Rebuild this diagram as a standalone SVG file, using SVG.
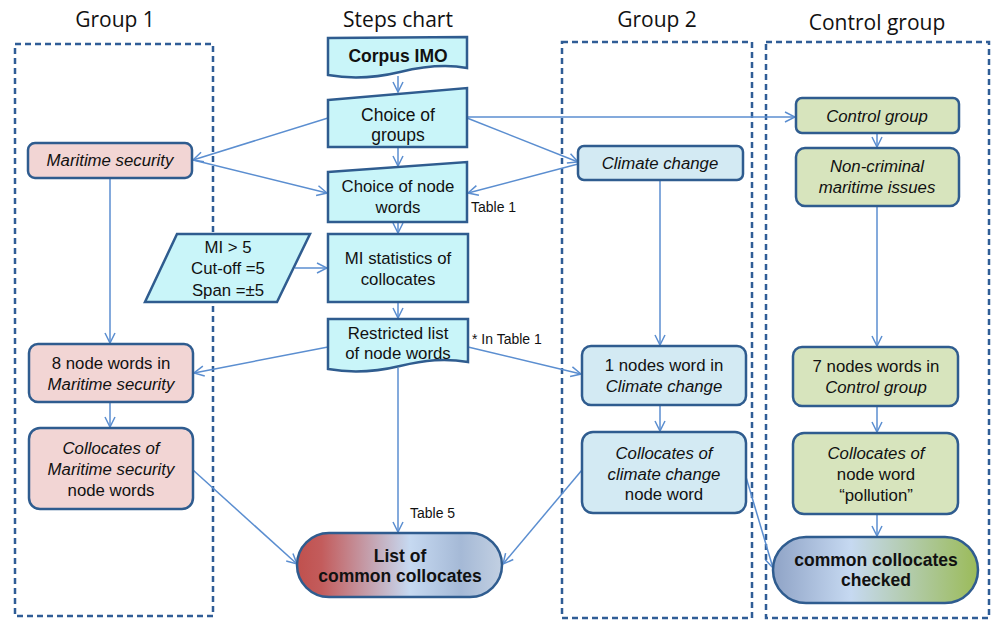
<svg xmlns="http://www.w3.org/2000/svg" width="992" height="622" viewBox="0 0 992 622">
<defs>
<style>
.grp{fill:none;stroke:#2f5d96;stroke-width:2.5;stroke-dasharray:6 4}
.title{font-family:"Open Sans","Liberation Sans",Arial,sans-serif;font-size:21px;fill:#111;text-anchor:middle}
.n{stroke:#2f5c8f;stroke-width:2.5}
.cy{fill:#c9f5f9}
.pk{fill:#f2d5d4}
.lb{fill:#d3eaf3}
.gr{fill:#d7e4bd}
.t{font-family:"Liberation Sans",Arial,sans-serif;font-size:16.8px;fill:#111;text-anchor:middle}
.i{font-style:italic}
.b{font-weight:bold}
.lbl{font-family:"Liberation Sans",Arial,sans-serif;font-size:14px;fill:#111}
.c{fill:none;stroke:#5b8ed0;stroke-width:1.5;marker-end:url(#ah)}
</style>
<marker id="ah" viewBox="0 0 12 12" refX="11" refY="6" markerWidth="12" markerHeight="12" markerUnits="userSpaceOnUse" orient="auto">
<path d="M1,1 L11,6 L1,11" fill="none" stroke="#5b8ed0" stroke-width="1.5"/>
</marker>
<linearGradient id="g1" x1="0" y1="0" x2="1" y2="0">
<stop offset="0" stop-color="#c0504d"/>
<stop offset="0.12" stop-color="#c35c5c"/>
<stop offset="0.55" stop-color="#c6d9f1"/>
<stop offset="0.8" stop-color="#a5b9d6"/>
<stop offset="1" stop-color="#c2d0e2"/>
</linearGradient>
<linearGradient id="g2" x1="0" y1="0" x2="1" y2="0">
<stop offset="0" stop-color="#8fa3c6"/>
<stop offset="0.38" stop-color="#c6d9f1"/>
<stop offset="1" stop-color="#9bbb59"/>
</linearGradient>
</defs>
<rect width="992" height="622" fill="#ffffff"/>

<g id="groups">
<rect class="grp" x="15" y="44" width="198" height="572"/>
<rect class="grp" x="562" y="42" width="190" height="576"/>
<rect class="grp" x="766" y="42" width="223" height="576"/>
<text class="title" x="115" y="27">Group 1</text>
<text class="title" x="398" y="27">Steps chart</text>
<text class="title" x="657" y="27">Group 2</text>
<text class="title" x="877" y="30">Control group</text>
</g>

<g id="connectors">
<path class="c" d="M398,76 L398,92"/>
<path class="c" d="M398,147 L398,166"/>
<path class="c" d="M328,118 L193,160"/>
<path class="c" d="M467,118 L578,162"/>
<path class="c" d="M467,117 L795,117"/>
<path class="c" d="M193,160 L327,193"/>
<path class="c" d="M578,164 L468,193"/>
<path class="c" d="M398,222 L398,233"/>
<path class="c" d="M295,268 L327,268"/>
<path class="c" d="M398,302 L398,318"/>
<path class="c" d="M328,347 L194,373"/>
<path class="c" d="M468,347 L581,374"/>
<path class="c" d="M398,368 L398,532"/>
<path class="c" d="M110,178 L110,343"/>
<path class="c" d="M110,402 L110,427"/>
<path class="c" d="M193,470 L297,564"/>
<path class="c" d="M582,470 L503,564"/>
<path class="c" d="M746,477 L773,568"/>
<path class="c" d="M660,180 L660,345"/>
<path class="c" d="M660,405 L660,431"/>
<path class="c" d="M877,133 L877,147"/>
<path class="c" d="M877,206 L877,346"/>
<path class="c" d="M877,406 L877,432"/>
<path class="c" d="M877,514 L877,536"/>
</g>

<g id="labels">
<text class="lbl" x="471" y="212">Table 1</text>
<text class="lbl" x="472" y="344">* In Table 1</text>
<text class="lbl" x="410" y="518">Table 5</text>
</g>

<g id="corpus">
<path class="n cy" d="M328,38 L467,37 L467,68 C445,64 425,66 400,72 C375,78 350,79 328,75 Z"/>
<text class="t b" x="398" y="62" style="font-size:17.5px">Corpus IMO</text>
</g>

<g id="choice-groups">
<path class="n cy" d="M328,100 L467,88 L467,147 L328,147 Z"/>
<text class="t" x="398" y="121" style="font-size:17.5px">Choice of</text>
<text class="t" x="398" y="141" style="font-size:17.5px">groups</text>
</g>

<g id="choice-node-words">
<path class="n cy" d="M328,172 L467,162 L467,222 L328,222 Z"/>
<text class="t" x="398" y="192">Choice of node</text>
<text class="t" x="398" y="213">words</text>
</g>

<g id="mi-params">
<path class="n cy" d="M177,234 L310,234 L277,302 L145,302 Z"/>
<text class="t" x="228" y="253">MI &gt; 5</text>
<text class="t" x="228" y="274">Cut-off =5</text>
<text class="t" x="228" y="296">Span =±5</text>
</g>

<g id="mi-stats">
<rect class="n cy" x="328" y="234" width="140" height="68"/>
<text class="t" x="398" y="264">MI statistics of</text>
<text class="t" x="398" y="285">collocates</text>
</g>

<g id="restricted">
<path class="n cy" d="M328,319 L468,319 L468,362 C445,358 425,360 400,366 C375,372 350,373 328,369 Z"/>
<text class="t" x="398" y="339">Restricted list</text>
<text class="t" x="398" y="359">of node words</text>
</g>

<g id="maritime">
<rect class="n pk" x="28" y="143" width="164" height="35" rx="7"/>
<text class="t i" x="110" y="166">Maritime security</text>
</g>

<g id="eight-nodes">
<rect class="n pk" x="29" y="344" width="164" height="58" rx="9"/>
<text class="t" x="111" y="369">8 node words in</text>
<text class="t i" x="111" y="390">Maritime security</text>
</g>

<g id="collocates-ms">
<rect class="n pk" x="29" y="428" width="164" height="81" rx="11"/>
<text class="t i" x="111" y="454">Collocates of</text>
<text class="t i" x="111" y="475">Maritime security</text>
<text class="t" x="111" y="496">node words</text>
</g>

<g id="list-common">
<rect x="297" y="533" width="205" height="64" rx="32" fill="url(#g1)" class="n"/>
<text class="t b" x="400" y="562" style="font-size:17.5px">List of</text>
<text class="t b" x="400" y="582" style="font-size:17.5px">common  collocates</text>
</g>

<g id="climate">
<rect class="n lb" x="578" y="146" width="165" height="34" rx="6"/>
<text class="t i" x="660" y="169">Climate change</text>
</g>

<g id="one-node">
<rect class="n lb" x="582" y="346" width="164" height="59" rx="9"/>
<text class="t" x="664" y="371">1 nodes word in</text>
<text class="t i" x="664" y="392">Climate change</text>
</g>

<g id="collocates-cc">
<rect class="n lb" x="582" y="432" width="164" height="81" rx="11"/>
<text class="t i" x="664" y="459">Collocates of</text>
<text class="t i" x="664" y="480">climate change</text>
<text class="t" x="664" y="500">node word</text>
</g>

<g id="control">
<rect class="n gr" x="796" y="98" width="163" height="35" rx="6"/>
<text class="t i" x="877" y="122">Control group</text>
</g>

<g id="noncriminal">
<rect class="n gr" x="796" y="148" width="163" height="58" rx="9"/>
<text class="t i" x="877" y="172">Non-criminal</text>
<text class="t i" x="877" y="193">maritime issues</text>
</g>

<g id="seven-nodes">
<rect class="n gr" x="793" y="347" width="165" height="59" rx="9"/>
<text class="t" x="876" y="372">7 nodes words in</text>
<text class="t i" x="876" y="393">Control group</text>
</g>

<g id="collocates-pollution">
<rect class="n gr" x="793" y="433" width="165" height="81" rx="11"/>
<text class="t i" x="876" y="459">Collocates of</text>
<text class="t" x="876" y="480">node word</text>
<text class="t" x="876" y="501">“pollution”</text>
</g>

<g id="common-checked">
<rect x="773" y="537" width="205" height="66" rx="33" fill="url(#g2)" class="n"/>
<text class="t b" x="876" y="566" style="font-size:17.5px">common  collocates</text>
<text class="t b" x="876" y="586" style="font-size:17.5px">checked</text>
</g>
</svg>
